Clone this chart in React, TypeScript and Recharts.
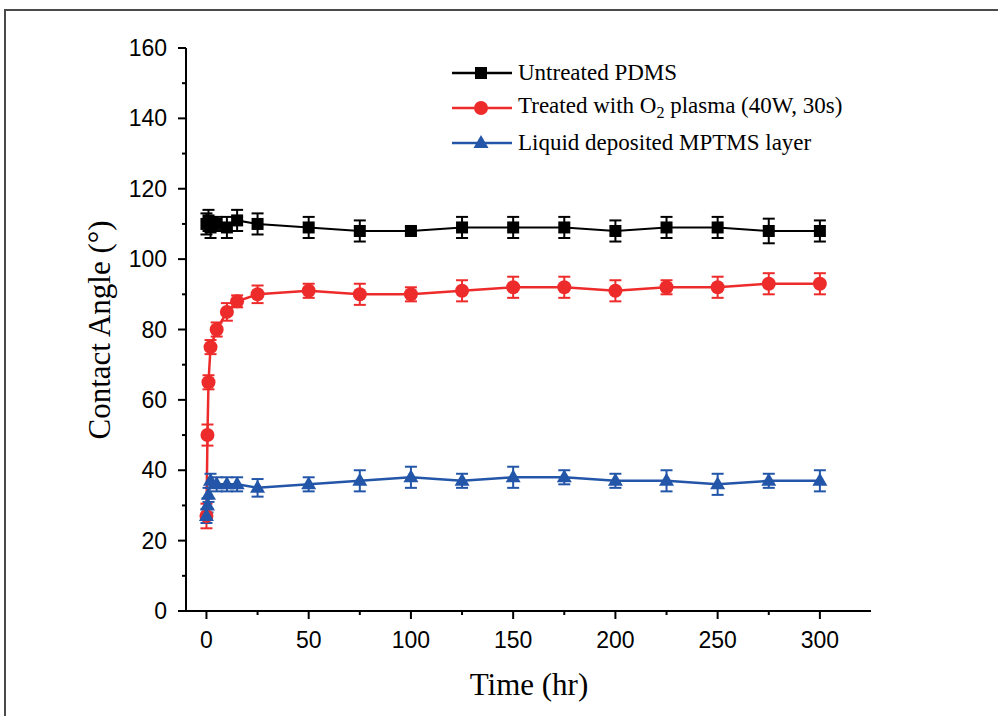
import React from "react";
import { LineChart, Line, XAxis, YAxis, ErrorBar } from "recharts";

// Untreated PDMS
const pdmsTime = [0, 1, 2, 5, 10, 15, 25, 50, 75, 100, 125, 150, 175, 200, 225, 250, 275, 300];
const pdmsAngle = [110, 111, 109, 110, 109, 111, 110, 109, 108, 108, 109, 109, 109, 108, 109, 109, 108, 108];
const pdmsErr = [3, 3, 3, 2, 3, 3, 3, 3, 3, 1, 3, 3, 3, 3, 3, 3, 3.5, 3];

// O2 plasma treated
const plasmaTime = [0, 0.5, 1, 2, 5, 10, 15, 25, 50, 75, 100, 125, 150, 175, 200, 225, 250, 275, 300];
const plasmaAngle = [27, 50, 65, 75, 80, 85, 88, 90, 91, 90, 90, 91, 92, 92, 91, 92, 92, 93, 93];
const plasmaErr = [3.5, 3, 2, 2, 2, 2.5, 1.7, 2.5, 2, 3, 2, 3, 3, 3, 3, 2, 3, 3, 3];

// liquid deposited MPTMS
const mptmsTime = [0, 0.5, 1, 2, 5, 10, 15, 25, 50, 75, 100, 125, 150, 175, 200, 225, 250, 275, 300];
const mptmsAngle = [27, 30, 33, 37, 36, 36, 36, 35, 36, 37, 38, 37, 38, 38, 37, 37, 36, 37, 37];
const mptmsErr = [2, 2, 2, 2, 2, 2, 2, 2.5, 2, 3, 3, 2, 3, 2, 2, 3, 3, 2, 3];

const xMajorTicks = [0, 50, 100, 150, 200, 250, 300];
const xMinorTicks = [25, 75, 125, 175, 225, 275];
const yMajorTicks = [0, 20, 40, 60, 80, 100, 120, 140, 160];
const yMinorTicks = [10, 30, 50, 70, 90, 110, 130, 150];

const BLACK = "#000000";
const RED = "#ee2b2b";
const BLUE = "#2356a8";

const SANS = "'Liberation Sans', Arial, sans-serif";
const SERIF = "'Liberation Serif', 'Times New Roman', serif";

const toRows = (t: number[], v: number[], e: number[]) =>
  t.map((time, i) => ({ time, angle: v[i], err: e[i] }));

const pdmsData = toRows(pdmsTime, pdmsAngle, pdmsErr);
const plasmaData = toRows(plasmaTime, plasmaAngle, plasmaErr);
const mptmsData = toRows(mptmsTime, mptmsAngle, mptmsErr);

function XTick({ x, y, payload }: any) {
  const major = xMajorTicks.includes(payload.value);
  return (
    <g>
      <line x1={x} y1={y} x2={x} y2={y + (major ? 8 : 4)} stroke="#000" strokeWidth={2} />
      {major && (
        <text x={x} y={y + 37} textAnchor="middle" fontSize={23} fontFamily={SANS} fill="#000">
          {payload.value}
        </text>
      )}
    </g>
  );
}

function YTick({ x, y, payload }: any) {
  const major = yMajorTicks.includes(payload.value);
  return (
    <g>
      <line x1={x} y1={y} x2={x - (major ? 8 : 4)} y2={y} stroke="#000" strokeWidth={2} />
      {major && (
        <text x={x - 19} y={y + 8} textAnchor="end" fontSize={23} fontFamily={SANS} fill="#000">
          {payload.value}
        </text>
      )}
    </g>
  );
}

function Square({ cx, cy, fill, size = 12 }: any) {
  if (cx == null || cy == null) return null;
  return <rect x={cx - size / 2} y={cy - size / 2} width={size} height={size} fill={fill} />;
}

function Circle({ cx, cy, fill, r = 7 }: any) {
  if (cx == null || cy == null) return null;
  return <circle cx={cx} cy={cy} r={r} fill={fill} />;
}

function Triangle({ cx, cy, fill, size = 15 }: any) {
  if (cx == null || cy == null) return null;
  const h = size * 0.87;
  return (
    <polygon
      points={`${cx},${cy - h * 0.62} ${cx - size / 2},${cy + h * 0.38} ${cx + size / 2},${cy + h * 0.38}`}
      fill={fill}
    />
  );
}

const legendItems = [
  { key: "pdms", color: BLACK, marker: "square", label: <>Untreated PDMS</> },
  {
    key: "plasma",
    color: RED,
    marker: "circle",
    label: (
      <>
        Treated with O<sub style={{ fontSize: "0.7em", verticalAlign: "-0.3em" }}>2</sub> plasma (40W, 30s)
      </>
    ),
  },
  { key: "mptms", color: BLUE, marker: "triangle", label: <>Liquid deposited MPTMS layer</> },
];

function LegendBox() {
  return (
    <div style={{ position: "absolute", left: 450, top: 55, fontFamily: SERIF, fontSize: 23, color: "#000" }}>
      {legendItems.map((item) => (
        <div key={item.key} style={{ display: "flex", alignItems: "center", height: 35, whiteSpace: "nowrap" }}>
          <svg width={64} height={20} style={{ marginRight: 4 }}>
            <line x1={2} y1={10} x2={62} y2={10} stroke={item.color} strokeWidth={2.5} />
            {item.marker === "square" && <Square cx={31} cy={10} fill={item.color} />}
            {item.marker === "circle" && <Circle cx={31} cy={10} fill={item.color} />}
            {item.marker === "triangle" && <Triangle cx={31} cy={10} fill={item.color} />}
          </svg>
          <span>{item.label}</span>
        </div>
      ))}
    </div>
  );
}

export default function App() {
  return (
    <div
      style={{
        position: "fixed",
        left: 0,
        top: 0,
        width: 998,
        height: 716,
        background: "#fff",
        overflow: "hidden",
      }}
    >
      <div
        style={{
          position: "absolute",
          left: 4,
          top: 9,
          width: 1200,
          height: 900,
          border: "2px solid #4a4a4a",
        }}
      />
      <div style={{ position: "absolute", left: 0, top: 0 }}>
        <LineChart width={998} height={716} margin={{ top: 48, right: 127, bottom: 0, left: 0 }}>
          <XAxis
            dataKey="time"
            type="number"
            domain={[-10, 325]}
            allowDataOverflow
            ticks={[...xMajorTicks, ...xMinorTicks].sort((a, b) => a - b)}
            interval={0}
            tick={<XTick />}
            tickLine={false}
            tickSize={0}
            tickMargin={0}
            height={105}
            axisLine={{ stroke: "#000", strokeWidth: 2 }}
            label={{
              content: () => (
                <text x={529} y={695} textAnchor="middle" fontSize={31} fontFamily={SERIF} fill="#000">
                  Time (hr)
                </text>
              ),
            }}
          />
          <XAxis
            xAxisId="top"
            orientation="top"
            type="number"
            domain={[-10, 325]}
            height={0}
            tick={false}
            tickLine={false}
            axisLine={{ stroke: "#000", strokeWidth: 2 }}
          />
          <YAxis
            type="number"
            domain={[0, 160]}
            ticks={[...yMajorTicks, ...yMinorTicks].sort((a, b) => a - b)}
            interval={0}
            tick={<YTick />}
            tickLine={false}
            tickSize={0}
            tickMargin={0}
            width={186}
            axisLine={{ stroke: "#000", strokeWidth: 2 }}
            label={{
              content: () => (
                <text
                  x={0}
                  y={0}
                  transform="translate(110, 330) rotate(-90)"
                  textAnchor="middle"
                  fontSize={31}
                  fontFamily={SERIF}
                  fill="#000"
                >
                  Contact Angle (°)
                </text>
              ),
            }}
          />
          <YAxis
            yAxisId="right"
            orientation="right"
            type="number"
            domain={[0, 160]}
            width={0}
            tick={false}
            tickLine={false}
            axisLine={{ stroke: "#000", strokeWidth: 2 }}
          />
          <Line
            data={pdmsData}
            dataKey="angle"
            stroke={BLACK}
            strokeWidth={2}
            dot={(p: any) => <Square key={`p${p.index}`} cx={p.cx} cy={p.cy} fill={BLACK} />}
            isAnimationActive={false}
          >
            <ErrorBar dataKey="err" direction="y" width={6} stroke={BLACK} strokeWidth={2} />
          </Line>
          <Line
            data={plasmaData}
            dataKey="angle"
            stroke={RED}
            strokeWidth={2.5}
            dot={(p: any) => <Circle key={`r${p.index}`} cx={p.cx} cy={p.cy} fill={RED} />}
            isAnimationActive={false}
          >
            <ErrorBar dataKey="err" direction="y" width={6} stroke={RED} strokeWidth={2} />
          </Line>
          <Line
            data={mptmsData}
            dataKey="angle"
            stroke={BLUE}
            strokeWidth={2.5}
            dot={(p: any) => <Triangle key={`b${p.index}`} cx={p.cx} cy={p.cy} fill={BLUE} />}
            isAnimationActive={false}
          >
            <ErrorBar dataKey="err" direction="y" width={6} stroke={BLUE} strokeWidth={2} />
          </Line>
        </LineChart>
      </div>
      <LegendBox />
    </div>
  );
}
